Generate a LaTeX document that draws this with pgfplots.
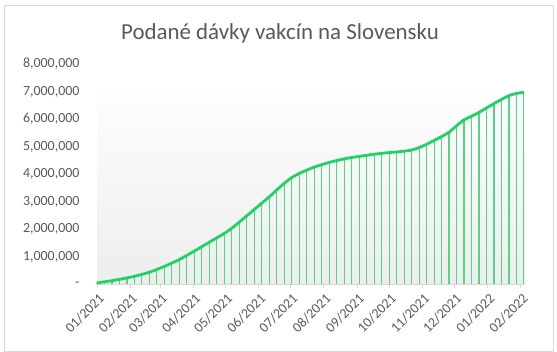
\documentclass[border=0pt]{standalone}
\usepackage{pgfplots}
\pgfplotsset{compat=1.18}
\usepackage{fontspec}
\setmainfont{Carlito}
\definecolor{linegreen}{RGB}{30,210,100}
\definecolor{dropgreen}{RGB}{80,215,130}
\definecolor{txtgray}{RGB}{89,89,89}
\definecolor{axgray}{RGB}{217,217,217}
\begin{document}
\begin{tikzpicture}
\path[use as bounding box] (0,0) rectangle (557bp,352bp);
\draw[axgray, line width=0.8bp] (4bp,1bp) rectangle (553bp,347bp);
\node[text=txtgray, font=\fontsize{23}{26}\selectfont] at (280bp,319bp) {Podané dávky vakcín na Slovensku};
\begin{axis}[
  at={(97bp,68bp)}, anchor=origin,
  scale only axis, width=428bp, height=220bp,
  xmin=0, xmax=400, ymin=0, ymax=8000000,
  scaled y ticks=false,
  axis x line*=bottom, axis y line*=left,
  y axis line style={draw=none},
  x axis line style={axgray, line width=0.8bp},
  ytick={0,1000000,2000000,3000000,4000000,5000000,6000000,7000000,8000000},
  yticklabels={{-},{1,000,000},{2,000,000},{3,000,000},{4,000,000},{5,000,000},{6,000,000},{7,000,000},{8,000,000}},
  ytick style={draw=none},
  xtick={0,31,59,90,120,151,181,212,243,273,304,334,365,396},
  xticklabels={01/2021,02/2021,03/2021,04/2021,05/2021,06/2021,07/2021,08/2021,09/2021,10/2021,11/2021,12/2021,01/2022,02/2022},
  xtick style={axgray, line width=0.8bp},
  tick align=outside, major tick length=4bp,
  tick label style={text=txtgray, font=\fontsize{14}{16}\selectfont},
  yticklabel style={xshift=-10bp},
  xticklabel style={rotate=45, anchor=east, xshift=1bp, yshift=-9bp},
  clip=false,
]
\fill[top color=white!99.5!black, bottom color=white!93!black, draw=none] (axis cs:0,0) rectangle (axis cs:400,7050000);
\addplot[ycomb, dropgreen, line width=1.1bp, mark=none] table {
x y
0 40000
7 80000
14 120000
21 170000
28 220000
35 280000
42 350000
49 430000
56 530000
63 640000
70 760000
77 890000
84 1040000
91 1200000
98 1360000
105 1520000
112 1680000
119 1840000
126 2030000
133 2250000
140 2480000
147 2710000
154 2940000
161 3170000
168 3420000
175 3660000
182 3870000
189 4020000
196 4140000
203 4250000
210 4340000
217 4420000
224 4490000
231 4550000
238 4600000
245 4640000
252 4680000
259 4720000
266 4750000
273 4780000
280 4800000
287 4830000
294 4870000
301 4960000
308 5080000
315 5220000
322 5360000
329 5520000
336 5750000
343 5970000
350 6100000
357 6240000
364 6400000
371 6560000
378 6710000
385 6850000
392 6930000
399 6970000
};
\addplot[linegreen, line width=2.8bp, smooth, tension=0.5, mark=none] table {
x y
0 40000
7 80000
14 120000
21 170000
28 220000
35 280000
42 350000
49 430000
56 530000
63 640000
70 760000
77 890000
84 1040000
91 1200000
98 1360000
105 1520000
112 1680000
119 1840000
126 2030000
133 2250000
140 2480000
147 2710000
154 2940000
161 3170000
168 3420000
175 3660000
182 3870000
189 4020000
196 4140000
203 4250000
210 4340000
217 4420000
224 4490000
231 4550000
238 4600000
245 4640000
252 4680000
259 4720000
266 4750000
273 4780000
280 4800000
287 4830000
294 4870000
301 4960000
308 5080000
315 5220000
322 5360000
329 5520000
336 5750000
343 5970000
350 6100000
357 6240000
364 6400000
371 6560000
378 6710000
385 6850000
392 6930000
399 6970000
};
\end{axis}
\end{tikzpicture}
\end{document}
